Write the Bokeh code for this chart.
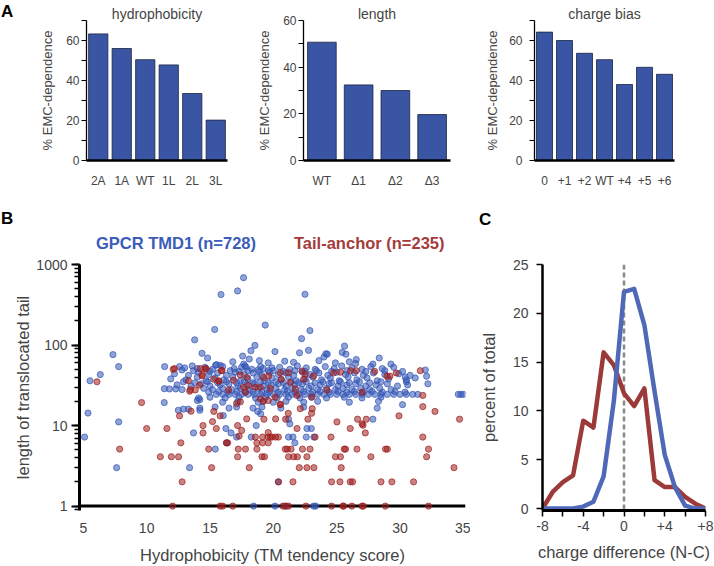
from bokeh.plotting import figure
from bokeh.layouts import row, column
from bokeh.models import (Span, FixedTicker, Range1d, FactorRange, Title, Div,
                          NumeralTickFormatter, LogTicker)
from bokeh.embed import file_html
from bokeh.resources import INLINE

# ---------------- data ----------------
# Panel A
hydro_cats = ["2A", "1A", "WT", "1L", "2L", "3L"]
hydro_vals = [63.3, 56.0, 50.4, 47.8, 33.5, 20.2]
length_cats = ["WT", "Δ1", "Δ2", "Δ3"]
length_vals = [50.7, 32.4, 30.0, 19.7]
charge_cats = ["0", "+1", "+2", "WT", "+4", "+5", "+6"]
charge_vals = [64.2, 60.0, 53.6, 50.4, 38.0, 46.6, 43.1]

# Panel B : (TM tendency score, length of translocated tail)
gpcr_sparse = [
    (17.65, 686), (17.18, 470), (15.87, 424), (22.5, 427), (19.36, 177), (15.37, 156),
    (22.89, 151), (13.79, 116), (22.23, 120), (18.55, 99), (25.62, 97), (18.23, 85),
    (14.37, 79), (14.81, 69), (7.34, 76), (7.79, 54), (6.34, 43), (5.53, 36), (11.42, 54),
    (17.58, 73), (18.1, 67), (15.52, 57), (12.6, 54), (12.79, 49), (14.0, 51), (17.76, 55),
    (18.8, 49), (19.2, 51), (19.6, 48), (19.9, 52), (20.13, 83), (22.78, 86), (22.07, 80),
    (24.26, 77), (24.0, 71), (25.44, 81), (25.73, 77), (28.36, 69), (26.55, 66), (26.5, 59),
    (29.28, 58), (27.86, 58), (30.41, 40), (32.0, 49), (32.1, 41), (15.81, 56), (15.44, 56),
    (17.66, 58), (17.84, 53), (24.15, 78),
    (5.37, 14.3), (7.79, 11.1), (5.1, 7.2), (7.63, 3.0), (11.39, 19.3), (13.39, 3.0),
    (13.7, 8.1), (15.42, 5.1), (16.05, 13.3), (16.26, 9.2), (16.66, 8.1), (17.1, 7.2),
    (18.26, 7.2), (18.65, 10), (18.76, 15), (19.0, 14), (21.2, 12), (21.3, 10.5),
    (22.65, 9.2), (23.0, 9.2), (21.2, 7.2), (21.55, 7.2), (21.7, 6.1), (22.6, 7.2),
    (23.2, 7.2), (27.86, 12), (30.2, 18.2), (30.5, 35), (32.2, 33), (16.3, 6.1),
    (18.44, 1), (20.13, 1), (20.94, 1), (23.18, 1), (23.34, 1), (20.4, 2.0),
]
gpcr_band = [
    (16.8, 62), (18.9, 64), (19.6, 60), (20.9, 63), (21.6, 61), (23.6, 64), (24.9, 60), (26.0, 62),
    (13.0, 52), (13.6, 55), (14.6, 53), (15.2, 50), (16.0, 54), (16.9, 51), (17.5, 53), (18.3, 50),
    (19.0, 54), (20.5, 53), (21.3, 50), (21.9, 55), (22.6, 52), (23.3, 50), (24.1, 54), (24.8, 51),
    (25.4, 55), (26.2, 52), (27.0, 50), (27.7, 54), (28.6, 51), (29.5, 53),
    (13.7, 48), (15.0, 47), (16.6, 48), (17.3, 47), (18.0, 48), (18.9, 47), (20.0, 48), (20.8, 47),
    (21.7, 48), (22.5, 47), (23.4, 48), (24.6, 47), (25.8, 48), (27.3, 47), (28.8, 48), (30.2, 47),
    (12.2, 44), (13.3, 42), (14.1, 46), (14.9, 43), (15.6, 45), (16.3, 42), (17.0, 46), (17.7, 43),
    (18.4, 45), (19.1, 42), (19.7, 46), (20.4, 43), (21.0, 45), (21.6, 42), (22.3, 46), (22.9, 43),
    (23.6, 45), (24.3, 42), (25.0, 46), (25.7, 43), (26.4, 45), (27.1, 42), (27.9, 45), (28.8, 43),
    (29.9, 44), (30.8, 42),
    (11.9, 38), (13.1, 37), (14.0, 40), (14.7, 36), (15.4, 39), (16.1, 37), (16.8, 40), (17.4, 36),
    (18.0, 38), (18.7, 40), (19.3, 36), (19.9, 39), (20.6, 37), (21.2, 40), (21.8, 36), (22.5, 38),
    (23.1, 40), (23.8, 37), (24.5, 39), (25.2, 36), (25.9, 40), (26.6, 37), (27.4, 39), (28.2, 36),
    (29.1, 38), (30.5, 37), (31.2, 39),
    (12.9, 35), (13.8, 34), (14.8, 35), (15.6, 34), (16.3, 35), (17.1, 34), (17.7, 35), (18.4, 34),
    (19.0, 35), (19.6, 34), (20.2, 35), (20.8, 34), (21.4, 35), (22.0, 34), (22.6, 35), (23.3, 34),
    (23.9, 35), (24.6, 34), (25.3, 35), (26.0, 34), (26.8, 35), (27.6, 34), (28.5, 35),
    (12.4, 32), (13.5, 31), (14.3, 33), (15.0, 31), (15.8, 32), (16.5, 33), (17.2, 31), (17.9, 32),
    (18.5, 33), (19.2, 31), (19.8, 32), (20.4, 33), (21.0, 31), (21.7, 32), (22.3, 33), (23.0, 31),
    (23.7, 32), (24.4, 33), (25.1, 31), (25.8, 32), (26.5, 33), (27.3, 31), (28.1, 32), (29.0, 33),
    (29.8, 31), (30.6, 32),
    (11.4, 28.7), (11.8, 28.5), (12.3, 28.5), (12.8, 28), (14.5, 29), (15.2, 28), (16.0, 29),
    (16.7, 28), (17.4, 29), (18.1, 28), (18.8, 29), (19.5, 28), (20.2, 29), (20.9, 28), (21.5, 29),
    (22.2, 28), (22.8, 29), (23.5, 28), (24.2, 29), (24.9, 28), (25.5, 29), (26.2, 28), (26.9, 29),
    (27.6, 28), (28.4, 29), (29.3, 28),
    (14.9, 26), (15.7, 26.5), (16.4, 26), (17.1, 26.5), (17.8, 26), (18.4, 26.5), (19.1, 26),
    (19.7, 26.5), (20.4, 26), (21.1, 26.5), (21.7, 26), (22.4, 26.5), (23.1, 26), (23.7, 26.5),
    (24.4, 26), (25.1, 26.5), (25.8, 26), (26.4, 26.5), (27.1, 26), (27.8, 26.5), (28.6, 26),
    (29.6, 26.5), (30.4, 26),
    (15.5, 24.4), (16.0, 24.4), (16.5, 24.4), (17.0, 24.4), (17.5, 24.4), (18.0, 24.4), (18.5, 24.4),
    (19.0, 24.4), (19.5, 24.4), (20.0, 24.4), (20.5, 24.4), (21.0, 24.4), (21.5, 24.4), (22.0, 24.4),
    (22.5, 24.4), (23.0, 24.4), (23.5, 24.4), (24.0, 24.4), (24.5, 24.4), (25.0, 24.4), (25.5, 24.4),
    (26.0, 24.4), (26.5, 24.4), (27.0, 24.4), (27.5, 24.4), (28.0, 24.4), (28.5, 24.4), (29.0, 24.4),
    (29.5, 24.4), (30.0, 24.4), (30.5, 24.4), (31.0, 24.4), (31.4, 24.4), (34.6, 24.4), (34.8, 24.4),
    (35.0, 24.4),
    (14.1, 22), (15.0, 22.5), (16.2, 22), (17.3, 22.5), (18.6, 22), (19.4, 22.5), (20.3, 22),
    (21.2, 22.5), (22.1, 22), (23.0, 22.5), (24.2, 22), (25.6, 22.5), (27.0, 22), (28.5, 22.5),
    (14.0, 20.5), (14.2, 21), (16.0, 19.5), (17.2, 20), (18.8, 19.5), (19.2, 20), (20.0, 19.5),
    (21.0, 20), (22.4, 19.5), (23.5, 20), (26.0, 19.5), (28.3, 20),
    (14.2, 16.5), (15.4, 17), (16.5, 16.5), (17.1, 17), (18.4, 16.5), (19.1, 17), (20.6, 16.5),
    (22.4, 17), (28.2, 16.5),
    (12.5, 15.5), (12.9, 16), (13.3, 16), (14.2, 15.5),
]
tail_points = [
    (6.08, 35), (12.1, 50), (12.2, 51), (13.3, 36), (14.23, 51), (14.7, 51), (15.9, 48), (14.4, 43),
    (13.4, 26.7), (13.84, 27.7), (13.45, 28), (14.18, 31.8), (14.63, 50.7), (14.37, 41.4),
    (15.29, 37.6), (15.68, 36), (15.95, 48.4), (16.47, 27.7), (16.86, 36.6), (17.39, 42.6),
    (17.65, 29.9), (17.79, 26), (17.92, 39.5), (18.58, 29.9), (18.97, 29.9), (19.23, 39.5),
    (19.63, 41.4), (19.76, 29), (20.55, 45.4), (20.63, 37.6), (21.2, 45.4), (21.34, 34.3),
    (21.73, 28.5), (22.26, 47.6), (22.39, 37.6), (22.52, 43.3), (23.05, 22.6), (23.18, 41.4),
    (24.23, 27.7), (24.76, 45), (25.3, 46), (26.1, 48), (26.55, 48), (27.0, 26), (28.0, 47),
    (28.97, 41), (29.2, 41), (29.7, 45), (31.6, 48), (31.8, 23.7), (20.55, 18.4), (18.97, 21.5),
    (20.15, 22.6), (21.87, 23.7), (15.7, 35.4), (17.1, 18.8), (17.4, 19.7), (18.05, 31.3),
    (19.2, 20), (19.6, 20.5), (15.3, 15),
    (9.6, 19.3), (10.0, 9.2), (11.6, 9.2), (7.87, 5.1), (12.7, 6.1), (11.08, 4.1), (11.95, 4.1),
    (12.52, 4.1), (12.8, 2.0), (15.13, 3.0), (14.45, 10), (14.45, 8.1), (15.2, 11.2), (14.9, 5.1),
    (13.5, 15.1), (12.6, 13.2), (15.5, 9.2), (15.8, 13.2), (16.4, 6.1), (16.3, 6.1), (17.18, 10),
    (17.9, 12.1), (17.23, 5.1), (17.8, 5.1), (17.18, 4.1), (18.1, 3.0), (18.58, 7.2), (19.15, 7.2),
    (19.58, 7.2), (19.9, 7.2), (18.7, 6.1), (19.15, 6.1), (19.6, 6.1), (18.7, 5.1), (19.3, 4.1),
    (19.1, 4.1), (19.26, 12), (19.6, 8.2), (17.3, 7.4), (17.5, 8.7),
    (20.18, 12.1), (20.97, 12), (20.55, 18.2), (21.18, 14.2), (22.13, 16.2), (21.87, 9.2),
    (22.73, 12), (23.02, 14.2), (23.07, 16.2), (25.02, 11.1), (26.07, 9.2), (26.65, 12),
    (27.34, 12), (27.0, 10.5), (27.08, 10.1), (27.26, 8.1), (29.92, 13.2), (31.8, 17.2),
    (32.76, 15), (34.7, 12),
    (19.76, 7.2), (20.18, 7.2), (20.4, 7.2), (23.3, 7.2), (24.55, 7.2), (31.8, 7.2),
    (20.94, 5.1), (21.1, 5.1), (21.4, 5.1), (22.3, 5.1), (22.9, 5.1), (25.6, 5.1), (25.7, 5.1),
    (26.6, 5.1), (28.86, 5.1), (29.0, 5.1), (32.25, 5.1),
    (21.2, 4.1), (21.6, 4.1), (21.9, 4.1), (22.65, 4.1), (24.9, 4.1), (25.3, 4.1), (27.7, 4.1),
    (32.1, 4.1),
    (22.05, 3.0), (22.65, 3.0), (23.2, 3.0), (25.36, 3.0), (34.26, 3.0),
    (20.4, 2.0), (21.55, 2.0), (24.6, 2.0), (25.26, 2.0), (26.07, 2.0), (26.26, 2.0), (28.5, 2.0),
    (29.36, 2.0), (31.07, 2.0),
    (12.05, 1), (15.8, 1), (16.0, 1), (16.8, 1), (20.76, 1), (21.0, 1), (21.2, 1), (22.57, 1),
    (24.6, 1), (25.5, 1), (25.55, 1), (26.2, 1), (27.0, 1), (27.1, 1), (28.84, 1), (32.25, 1),
]
b_xticks = [5, 10, 15, 20, 25, 30, 35]

# Panel C
charge_diff = [-8, -7, -6, -5, -4, -3, -2, -1, 0, 1, 2, 3, 4, 5, 6, 7, 8]
gpcr_pct = [0, 0, 0, 0, 0.2, 0.7, 3.3, 11.0, 22.2, 22.5, 18.8, 12.0, 5.5, 2.2, 0.3, 0, 0]
tail_pct = [0, 1.7, 2.7, 3.4, 9.0, 8.3, 16.0, 14.7, 11.8, 10.5, 12.3, 2.9, 2.2, 2.2, 1.2, 0.5, 0]
c_xticks = [-8, -6, -4, -2, 0, 2, 4, 6, 8]
c_xlabels = {-8: "-8", -6: "", -4: "-4", -2: "", 0: "0", 2: "", 4: "+4", 6: "", 8: "+8"}
c_yticks = [0, 5, 10, 15, 20, 25]

# ---------------- styling ----------------
FONT = "Liberation Sans"
BAR_BLUE = "#3A55A4"
PT_BLUE = "#3557B6"
PT_RED = "#9E1E1E"
LINE_BLUE = "#5068B8"
LINE_RED = "#9C3A3A"
TOP_H = 205


def clean(p):
    p.xgrid.visible = False
    p.ygrid.visible = False
    p.outline_line_color = None
    p.background_fill_color = "white"
    p.border_fill_color = "white"


def bar_panel(cats, vals, ymax, width, left, right, bar_w, title, title_off,
              tick_standoff, label_standoff):
    p = figure(x_range=FactorRange(factors=cats), y_range=Range1d(0, ymax),
               width=width, height=TOP_H, min_border_left=left, min_border_right=right,
               min_border_top=20, min_border_bottom=TOP_H - 160,
               output_backend="svg", toolbar_location=None)
    clean(p)
    p.vbar(x=cats, top=vals, width=bar_w, fill_color=BAR_BLUE,
           line_color="#1c2340", line_width=0.8)
    ticks = list(range(0, ymax + 1, 10))
    p.yaxis.ticker = FixedTicker(ticks=ticks)
    p.yaxis.major_label_overrides = {t: ("" if t % 20 else str(t)) for t in ticks}
    p.yaxis.axis_line_width = 1.3
    p.yaxis.major_tick_out = 5
    p.yaxis.major_tick_in = 0
    p.yaxis.minor_tick_line_color = None
    p.yaxis.major_label_text_font = FONT
    p.yaxis.major_label_text_font_size = "12px"
    p.yaxis.major_label_standoff = tick_standoff
    p.yaxis.axis_label = "% EMC-dependence"
    p.yaxis.axis_label_text_font = FONT
    p.yaxis.axis_label_text_font_size = "13px"
    p.yaxis.axis_label_text_font_style = "normal"
    p.yaxis.axis_label_standoff = label_standoff
    p.xaxis.axis_line_width = 2.5
    p.xaxis.major_tick_line_color = None
    p.xaxis.minor_tick_line_color = None
    p.xaxis.major_label_text_font = FONT
    p.xaxis.major_label_text_font_size = "12px"
    p.xaxis.major_label_standoff = 7
    p.add_layout(Title(text=title, align="center", offset=title_off, standoff=-2,
                       text_font=FONT, text_font_size="14px", text_font_style="normal"),
                 "above")
    return p


div_a = Div(text="<div style=\"font-family:'Liberation Sans',Arial,sans-serif;font-weight:bold;"
                 "font-size:17px;line-height:17px;padding-top:3px;padding-left:1px;\">A</div>",
            width=18, height=TOP_H, margin=0)
fa1 = bar_panel(hydro_cats, hydro_vals, 70, 228, 68, 19, 0.82, "hydrophobicity", 3, 2, 8)
fa2 = bar_panel(length_cats, length_vals, 60, 232, 57, 28, 0.78, "length", 3.5, 2, 8)
fa3 = bar_panel(charge_cats, charge_vals, 70, 236, 56, 40, 0.80, "charge bias", 0, 7, 6)

# ---------------- B / C header (panel letters and the B legend) ----------------
span_css = "position:absolute;white-space:nowrap;font-family:'Liberation Sans',Arial,sans-serif;"
mid_html = (
    "<div style=\"position:relative;width:714px;height:51px;\">"
    f"<span style=\"{span_css}left:1px;top:5px;font-size:17px;line-height:17px;font-weight:bold;color:#000;\">B</span>"
    f"<span style=\"{span_css}left:479px;top:6px;font-size:17px;line-height:17px;font-weight:bold;color:#000;\">C</span>"
    f"<span style=\"{span_css}left:96px;top:30px;font-size:16.5px;line-height:16.5px;font-weight:bold;color:#3B5CB8;\">GPCR TMD1 (n=728)</span>"
    f"<span style=\"{span_css}left:294px;top:30px;font-size:16.5px;line-height:16.5px;font-weight:bold;color:#A33B3B;\">Tail-anchor (n=235)</span>"
    "</div>"
)
div_mid = Div(text=mid_html, width=714, height=51, margin=0)

BOT_H = 566 - TOP_H - 51

# ---------------- panel B ----------------
pb = figure(width=470, height=BOT_H, x_range=Range1d(4.7, 35.17),
            y_range=Range1d(0.882, 1000), y_axis_type="log",
            min_border_left=79, min_border_right=5, min_border_top=8,
            min_border_bottom=BOT_H - 8 - 252,
            output_backend="svg", toolbar_location=None)
clean(pb)
pb.add_layout(Span(location=1, dimension="width", line_color="black", line_width=3,
                   level="underlay"))
gx = [p[0] for p in gpcr_sparse + gpcr_band]
gy = [p[1] for p in gpcr_sparse + gpcr_band]
tx = [p[0] for p in tail_points]
ty = [p[1] for p in tail_points]
pb.scatter(gx, gy, size=6.2, fill_color=PT_BLUE, fill_alpha=0.55,
           line_color=PT_BLUE, line_alpha=0.7, line_width=1)
pb.scatter(tx, ty, size=6.2, fill_color=PT_RED, fill_alpha=0.55,
           line_color=PT_RED, line_alpha=0.7, line_width=1)

pb.xaxis.ticker = FixedTicker(ticks=b_xticks)
pb.xaxis.axis_line_color = None
pb.xaxis.major_tick_line_color = None
pb.xaxis.minor_tick_line_color = None
pb.xaxis.major_label_text_font = FONT
pb.xaxis.major_label_text_font_size = "14px"
pb.xaxis.major_label_standoff = 6
pb.xaxis.axis_label = "Hydrophobicity (TM tendency score)"
pb.xaxis.axis_label_text_font = FONT
pb.xaxis.axis_label_text_font_size = "16.5px"
pb.xaxis.axis_label_text_font_style = "normal"
pb.xaxis.axis_label_standoff = 10

pb.yaxis.ticker = LogTicker(num_minor_ticks=10)
pb.yaxis.formatter = NumeralTickFormatter(format="0")
pb.yaxis.axis_line_width = 3
pb.yaxis.major_tick_out = 8
pb.yaxis.major_tick_in = 0
pb.yaxis.major_tick_line_width = 2
pb.yaxis.minor_tick_out = 5
pb.yaxis.minor_tick_in = 0
pb.yaxis.minor_tick_line_width = 1.5
pb.yaxis.major_label_text_font = FONT
pb.yaxis.major_label_text_font_size = "14px"
pb.yaxis.major_label_standoff = 4
pb.yaxis.axis_label = "length of translocated tail"
pb.yaxis.axis_label_text_font = FONT
pb.yaxis.axis_label_text_font_size = "16.5px"
pb.yaxis.axis_label_text_font_style = "normal"
pb.yaxis.axis_label_standoff = 1

# ---------------- panel C ----------------
pc = figure(width=244, height=BOT_H, x_range=Range1d(-8, 8), y_range=Range1d(-0.2, 25),
            min_border_left=72, min_border_right=9, min_border_top=7,
            min_border_bottom=BOT_H - 7 - 252,
            output_backend="svg", toolbar_location=None)
clean(pc)
pc.add_layout(Span(location=0, dimension="height", line_color="#888888", line_width=2.5,
                   line_dash="5 3", level="underlay"))
pc.line(charge_diff, tail_pct, line_color=LINE_RED, line_width=4.5, line_join="round")
pc.line(charge_diff, gpcr_pct, line_color=LINE_BLUE, line_width=4.5, line_join="round")

pc.xaxis.ticker = FixedTicker(ticks=c_xticks)
pc.xaxis.major_label_overrides = c_xlabels
pc.xaxis.axis_line_width = 3
pc.xaxis.major_tick_out = 6
pc.xaxis.major_tick_in = 0
pc.xaxis.major_tick_line_width = 1.5
pc.xaxis.minor_tick_line_color = None
pc.xaxis.major_label_text_font = FONT
pc.xaxis.major_label_text_font_size = "14px"
pc.xaxis.major_label_standoff = 4
pc.xaxis.axis_label = "charge difference (N-C)"
pc.xaxis.axis_label_text_font = FONT
pc.xaxis.axis_label_text_font_size = "16.5px"
pc.xaxis.axis_label_text_font_style = "normal"
pc.xaxis.axis_label_standoff = 9

pc.yaxis.ticker = FixedTicker(ticks=c_yticks)
pc.yaxis.axis_line_width = 2.5
pc.yaxis.major_tick_out = 6
pc.yaxis.major_tick_in = 0
pc.yaxis.major_tick_line_width = 1.5
pc.yaxis.minor_tick_line_color = None
pc.yaxis.major_label_text_font = FONT
pc.yaxis.major_label_text_font_size = "14px"
pc.yaxis.major_label_standoff = 8
pc.yaxis.axis_label = "percent of total"
pc.yaxis.axis_label_text_font = FONT
pc.yaxis.axis_label_text_font_size = "16.5px"
pc.yaxis.axis_label_text_font_style = "normal"
pc.yaxis.axis_label_standoff = 12

layout = column(row(div_a, fa1, fa2, fa3), div_mid, row(pb, pc))
open("out.html", "w").write(file_html(layout, INLINE))
